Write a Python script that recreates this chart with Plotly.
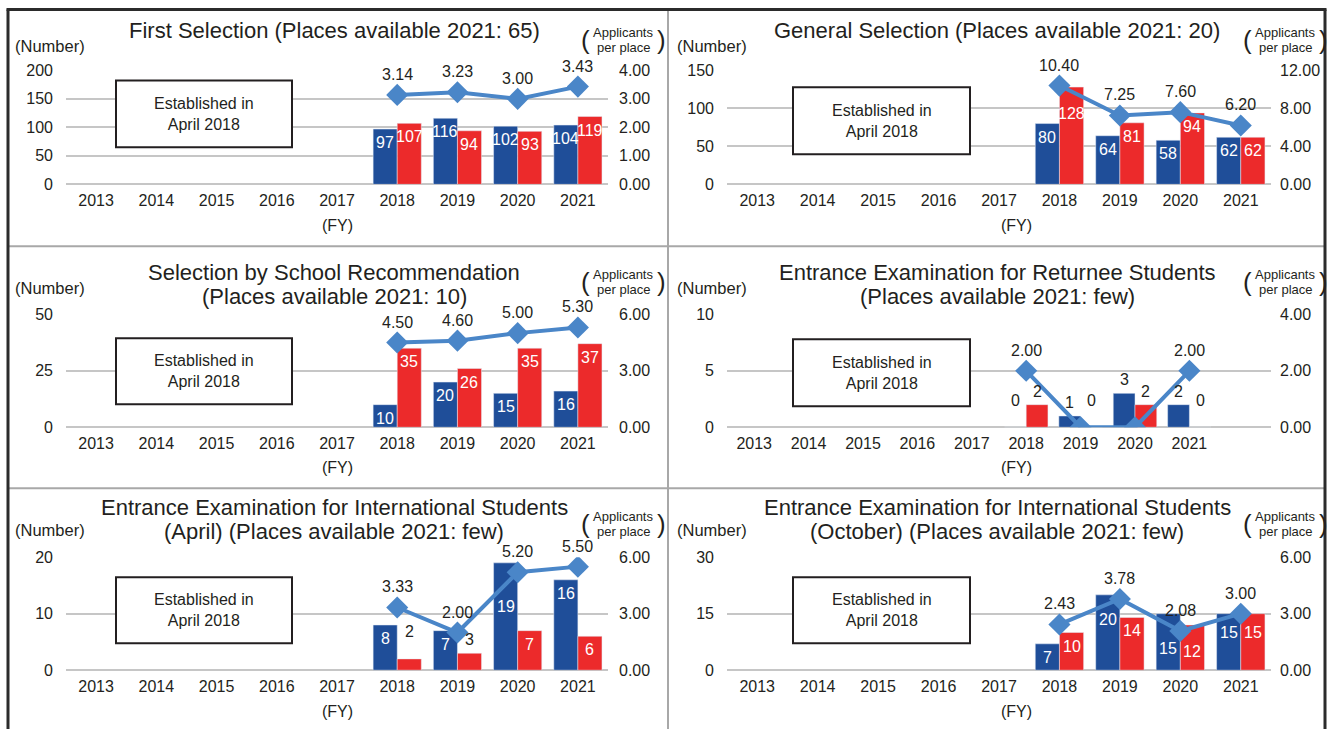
import plotly.graph_objects as go

# ---------------- data ----------------
axis_years = [2013, 2014, 2015, 2016, 2017, 2018, 2019, 2020, 2021]
years = [2018, 2019, 2020, 2021]

titles = [
    "First Selection (Places available 2021: 65)",
    "General Selection (Places available 2021: 20)",
    "Selection by School Recommendation<br>(Places available 2021: 10)",
    "Entrance Examination for Returnee Students<br>(Places available 2021: few)",
    "Entrance Examination for International Students<br>(April) (Places available 2021: few)",
    "Entrance Examination for International Students<br>(October) (Places available 2021: few)",
]

blue_first = [97, 116, 102, 104]
red_first = [107, 94, 93, 119]
ratio_first = [3.14, 3.23, 3.00, 3.43]

blue_general = [80, 64, 58, 62]
red_general = [128, 81, 94, 62]
ratio_general = [10.40, 7.25, 7.60, 6.20]

blue_school = [10, 20, 15, 16]
red_school = [35, 26, 35, 37]
ratio_school = [4.50, 4.60, 5.00, 5.30]

blue_returnee = [0, 1, 3, 2]
red_returnee = [2, 0, 2, 0]
ratio_returnee = [2.00, 0.00, 0.00, 2.00]

blue_intl_apr = [8, 7, 19, 16]
red_intl_apr = [2, 3, 7, 6]
ratio_intl_apr = [3.33, 2.00, 5.20, 5.50]

blue_intl_oct = [7, 20, 15, 15]
red_intl_oct = [10, 14, 12, 15]
ratio_intl_oct = [2.43, 3.78, 2.08, 3.00]

left_max = [200, 150, 50, 10, 20, 30]
left_step = [50, 50, 25, 5, 10, 15]
right_max = [4, 12, 6, 4, 6, 6]
right_step = [1, 4, 3, 2, 3, 3]
note_text = "Established in<br>April 2018"

panels = [
    (blue_first, red_first, ratio_first),
    (blue_general, red_general, ratio_general),
    (blue_school, red_school, ratio_school),
    (blue_returnee, red_returnee, ratio_returnee),
    (blue_intl_apr, red_intl_apr, ratio_intl_apr),
    (blue_intl_oct, red_intl_oct, ratio_intl_oct),
]

# ---------------- style ----------------
W, H = 1332, 729
FONT = "Liberation Sans, Arial, sans-serif"
DARK = "#231f20"
BLUE = "#1f4e99"
RED = "#ec2a2b"
LINE = "#4a86c8"
GRID = "#c6c6c6"

# vertical calibration of the photographed page
V_OFF, V_SCALE = 7.6, 0.977


def X(px):
    return px / W


def Y(py):
    return 1 - ((py - V_OFF) / V_SCALE) / H


col_x = [(66, 608), (727, 1271)]
row_y = [(70, 184), (314, 427), (557, 670)]
title_y = [[30], [272, 296], [507, 531]]
unit_y = [46, 288, 530]
appl_y = [(32.5, 47), (274.5, 289), (516.5, 531)]
fy_y = [225, 467, 711]
fy_x = [337, 1016]
box_x = [(116, 292), (793, 970)]
box_y = [[(80, 147), (87, 154)], [(338, 404), (339, 406)], [(577, 643), (577, 643)]]
appl_x = [(585, 623, 661), (1247, 1285, 1323)]
extra_slot = [False, False, False, True, False, False]
all_outside = [False, False, False, True, False, False]
# manual label nudges (pixels, negative = lower) as in the source chart
label_nudge = {
    (1, "red", 2018): -13,
    (4, "blue", 2020): -30,
    (4, "red", 2018): 14,
    (5, "blue", 2019): -11,
    (5, "blue", 2020): -21,
    (5, "red", 2020): -13,
    (5, "blue", 2021): -5,
    (5, "red", 2021): -5,
}

fig = go.Figure()
layout = {}
annotations = []
shapes = []

for k, (blue, red, ratio) in enumerate(panels):
    r, c = divmod(k, 2)
    xn = "x" if k == 0 else f"x{k + 1}"
    yl = "y" if k == 0 else f"y{2 * k + 1}"
    yr = f"y{2 * k + 2}"
    x0, x1 = col_x[c]
    ytop, ybot = row_y[r]
    xmax = 2022.5 if extra_slot[k] else 2021.5

    layout["xaxis" if k == 0 else f"xaxis{k + 1}"] = dict(
        domain=[X(x0), X(x1)], anchor=yl, range=[2012.5, xmax],
        tickvals=axis_years, ticktext=[str(v) for v in axis_years],
        showgrid=False, zeroline=False, showline=False, ticks="",
        tickfont=dict(size=16, color=DARK, family=FONT), ticklabelstandoff=5,
        fixedrange=True,
    )
    layout["yaxis" if k == 0 else f"yaxis{2 * k + 1}"] = dict(
        domain=[Y(ybot), Y(ytop)], anchor=xn, range=[0, left_max[k]],
        dtick=left_step[k], tick0=0, showgrid=True, gridcolor=GRID, gridwidth=2,
        zeroline=True, zerolinecolor=GRID, zerolinewidth=2, showline=False, ticks="",
        tickfont=dict(size=16, color=DARK, family=FONT), ticklabelstandoff=12,
    )
    layout[f"yaxis{2 * k + 2}"] = dict(
        domain=[Y(ybot), Y(ytop)], anchor=xn, overlaying=yl, side="right",
        range=[0, right_max[k]], dtick=right_step[k], tick0=0, tickformat=".2f",
        showgrid=False, zeroline=False, showline=False, ticks="",
        tickfont=dict(size=16, color=DARK, family=FONT),
        ticklabelstandoff=10 if c == 0 else 8,
    )

    fig.add_trace(go.Bar(x=years, y=blue, marker_color=BLUE, xaxis=xn, yaxis=yl,
                         showlegend=False, hoverinfo="skip", offsetgroup="b"))
    fig.add_trace(go.Bar(x=years, y=red, marker_color=RED, xaxis=xn, yaxis=yl,
                         showlegend=False, hoverinfo="skip", offsetgroup="r"))
    fig.add_trace(go.Scatter(x=years, y=ratio, mode="lines+markers", xaxis=xn, yaxis=yr,
                             line=dict(color=LINE, width=4),
                             marker=dict(symbol="diamond", size=17, color=LINE),
                             showlegend=False, hoverinfo="skip"))

    # bar labels
    px_per_unit = (ybot - ytop) / left_max[k]
    for name, vals, dx in (("blue", blue, -0.2), ("red", red, 0.2)):
        for yr_, v in zip(years, vals):
            nudge = label_nudge.get((k, name, yr_), 0)
            inside = (not all_outside[k]) and v * px_per_unit >= 20
            if inside:
                annotations.append(dict(x=yr_ + dx, y=v, xref=xn, yref=yl, text=str(v),
                                        showarrow=False, yanchor="top", yshift=-3 + nudge,
                                        font=dict(size=16, color="white", family=FONT)))
            else:
                annotations.append(dict(x=yr_ + dx, y=v, xref=xn, yref=yl, text=str(v),
                                        showarrow=False, yanchor="bottom",
                                        yshift=(16 if v == 0 else 3) + nudge,
                                        font=dict(size=16, color=DARK, family=FONT)))
    # line labels
    for yr_, v in zip(years, ratio):
        if v == 0:
            continue
        annotations.append(dict(x=yr_, y=v, xref=xn, yref=yr, text=f"{v:.2f}",
                                showarrow=False, yanchor="bottom", yshift=10,
                                font=dict(size=16, color=DARK, family=FONT)))

    # title
    cx = (x0 + x1) / 2 + (-3 if c == 0 else -2)
    tlines = titles[k].split("<br>")
    for line, ty in zip(tlines, title_y[r]):
        annotations.append(dict(x=X(cx), y=Y(ty), xref="paper", yref="paper", text=line,
                                showarrow=False, xanchor="center", yanchor="middle",
                                font=dict(size=22, color=DARK, family=FONT)))
    # unit labels
    annotations.append(dict(x=X(13 + 662 * c), y=Y(unit_y[r]), xref="paper", yref="paper",
                            text="(Number)", showarrow=False, xanchor="left", yanchor="middle",
                            font=dict(size=16.5, color=DARK, family=FONT)))
    ax0, axc, ax1 = appl_x[c]
    a1, a2 = appl_y[r]
    annotations.append(dict(x=X(axc), y=Y(a1), xref="paper", yref="paper", text="Applicants",
                            showarrow=False, xanchor="center", yanchor="middle",
                            font=dict(size=13, color=DARK, family=FONT)))
    annotations.append(dict(x=X(axc), y=Y(a2), xref="paper", yref="paper", text="per place",
                            showarrow=False, xanchor="center", yanchor="middle",
                            font=dict(size=13, color=DARK, family=FONT)))
    for ch, px in (("(", ax0), (")", ax1)):
        annotations.append(dict(x=X(px), y=Y((a1 + a2) / 2), xref="paper", yref="paper",
                                text=ch, showarrow=False, xanchor="center", yanchor="middle",
                                font=dict(size=26, color=DARK, family="Liberation Sans Narrow, Liberation Sans")))
    annotations.append(dict(x=X(fy_x[c]), y=Y(fy_y[r]), xref="paper", yref="paper",
                            text="(FY)", showarrow=False, xanchor="center", yanchor="middle",
                            font=dict(size=16, color=DARK, family=FONT)))
    # established box
    bx0, bx1 = box_x[c]
    by0, by1 = box_y[r][c]
    shapes.append(dict(type="rect", xref="paper", yref="paper", x0=X(bx0), x1=X(bx1),
                       y0=Y(by1), y1=Y(by0), line=dict(color=DARK, width=2),
                       fillcolor="white", layer="above"))
    annotations.append(dict(x=X((bx0 + bx1) / 2), y=Y((by0 + by1) / 2), xref="paper",
                            yref="paper", text=note_text, showarrow=False,
                            xanchor="center", yanchor="middle",
                            font=dict(size=16, color=DARK, family=FONT)))

# panel frame
BORDER = "#2b2b2b"
DIV = "#a8a8a8"
top_y = min(Y(4), 1 - 1.5 / H)
shapes += [
    dict(type="line", xref="paper", yref="paper", x0=X(668), x1=X(668), y0=top_y, y1=-0.1,
         line=dict(color=DIV, width=2)),
    dict(type="line", xref="paper", yref="paper", x0=X(8), x1=X(1325), y0=Y(246), y1=Y(246),
         line=dict(color=DIV, width=2)),
    dict(type="line", xref="paper", yref="paper", x0=X(8), x1=X(1325), y0=Y(488), y1=Y(488),
         line=dict(color=DIV, width=2)),
    dict(type="line", xref="paper", yref="paper", x0=X(8), x1=X(8), y0=top_y, y1=-0.1,
         line=dict(color=BORDER, width=3)),
    dict(type="line", xref="paper", yref="paper", x0=X(1325), x1=X(1325), y0=top_y, y1=-0.1,
         line=dict(color=BORDER, width=3)),
    dict(type="line", xref="paper", yref="paper", x0=X(6.5), x1=X(1326.5), y0=top_y, y1=top_y,
         line=dict(color=BORDER, width=3)),
]

fig.update_layout(
    width=W, height=H, margin=dict(l=0, r=0, t=0, b=0),
    paper_bgcolor="white", plot_bgcolor="white",
    barmode="group", bargap=0.2, bargroupgap=0,
    font=dict(family=FONT, color=DARK),
    annotations=annotations, shapes=shapes, showlegend=False,
    **layout,
)

post = (
    "var de=document.documentElement;de.style.margin='0';de.style.padding='0';"
    "de.style.overflow='hidden';"
    "document.body.style.margin='0';document.body.style.padding='0';"
    "document.body.style.overflow='hidden';"
    "var gd=document.getElementById('{plot_id}');gd.style.position='fixed';"
    "gd.style.top='0px';gd.style.left='0px';"
)
fig.write_html("out.html", config={"displayModeBar": False}, post_script=post)
